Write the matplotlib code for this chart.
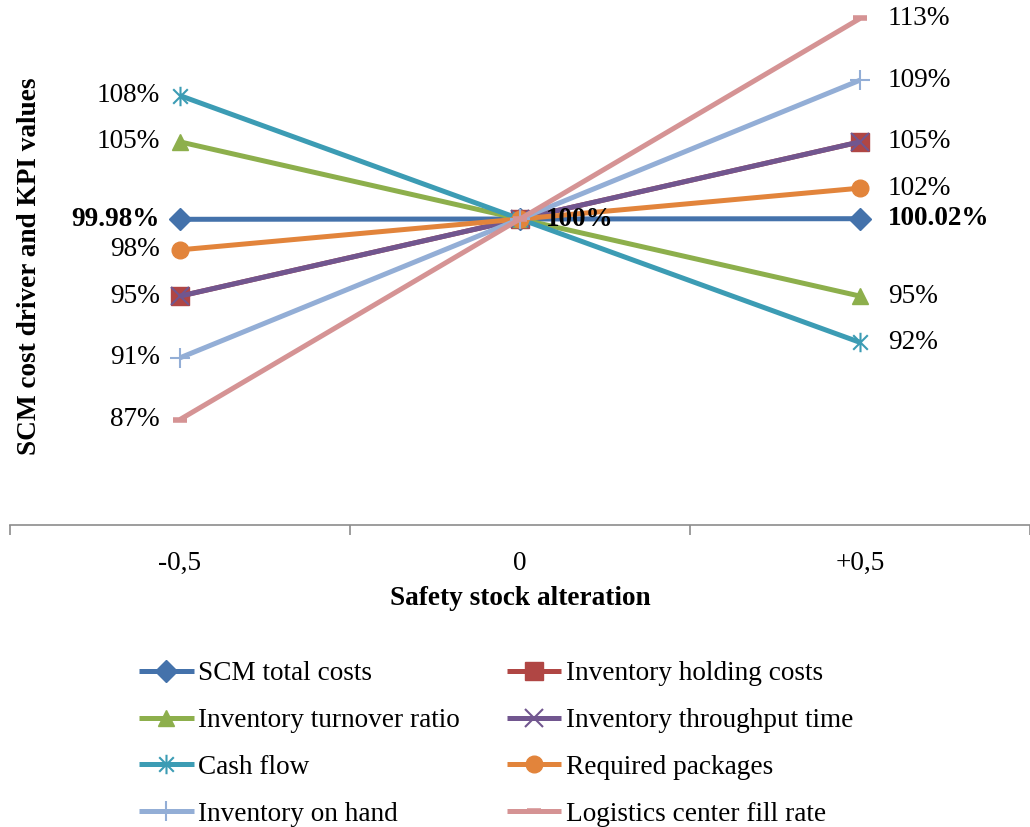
import matplotlib
matplotlib.use("Agg")
import matplotlib.pyplot as plt
from matplotlib.path import Path

# ── Data ──────────────────────────────────────────────────────────────────────
categories = ["-0,5", "0", "+0,5"]
series_names = [
    "SCM total costs",
    "Inventory holding costs",
    "Inventory turnover ratio",
    "Inventory throughput time",
    "Cash flow",
    "Required packages",
    "Inventory on hand",
    "Logistics center fill rate",
]
scm_total_costs = [99.98, 100, 100.02]
holding_costs = [95, 100, 105]
turnover_ratio = [105, 100, 95]
throughput_time = [95, 100, 105]
cash_flow = [108, 100, 92]
required_packages = [98, 100, 102]
inventory_on_hand = [91, 100, 109]
fill_rate = [87, 100, 113]

# labels printed next to the outer points
label_text = [
    ["99.98%", "100.02%"],
    ["95%", "105%"],
    ["105%", "95%"],
    ["95%", "105%"],
    ["108%", "92%"],
    ["98%", "102%"],
    ["91%", "109%"],
    ["87%", "113%"],
]
center_label = "100%"
show_outer = [True, True, True, False, True, True, True, True]

values = [scm_total_costs, holding_costs, turnover_ratio, throughput_time,
          cash_flow, required_packages, inventory_on_hand, fill_rate]

# ── Style ─────────────────────────────────────────────────────────────────────
colors = ["#4472AB", "#B04644", "#8DAF4C", "#71568F",
          "#3C9CB4", "#E2843B", "#93AED6", "#D59394"]

# office-style star: vertical bar plus an x
star = Path([(0, -1), (0, 1), (-0.75, -0.75), (0.75, 0.75),
             (-0.75, 0.75), (0.75, -0.75)],
            [Path.MOVETO, Path.LINETO] * 3)

markers = ["D", "s", "^", "x", star, "o", "+", "_"]
msizes = [11, 13, 12, 13, 14, 12, 14, 10]
mews = [1, 1, 1, 1.5, 1.5, 1, 1.5, 4]

FS = 19.6
plt.rcParams.update({
    "font.family": ["Liberation Serif", "DejaVu Serif"],
    "font.size": FS,
})

fig = plt.figure(figsize=(10.3, 8.27), dpi=100)
ax = fig.add_axes([10 / 1030, 1 - 525 / 827, 1020 / 1030, 521 / 827])

x = list(range(len(categories)))
lines = []
for i, (name, vals) in enumerate(zip(series_names, values)):
    ln, = ax.plot(x, vals, color=colors[i], lw=3.6, marker=markers[i],
                  markersize=msizes[i], markeredgewidth=mews[i],
                  markeredgecolor=colors[i], markerfacecolor=colors[i],
                  label=name, clip_on=False, zorder=3 + i,
                  solid_capstyle="butt")
    lines.append(ln)

# data labels
for i, vals in enumerate(values):
    if not show_outer[i]:
        continue
    weight = "bold" if i == 0 else "normal"
    ax.annotate(label_text[i][0], (x[0], vals[0]), xytext=(-20, 0),
                textcoords="offset pixels", ha="right", va="center",
                fontweight=weight, zorder=20)
    ax.annotate(label_text[i][1], (x[2], vals[2]), xytext=(28, 0),
                textcoords="offset pixels", ha="left", va="center",
                fontweight=weight, zorder=20)
ax.annotate(center_label, (x[1], scm_total_costs[1]), xytext=(26, 0),
            textcoords="offset pixels", ha="left", va="center",
            fontweight="bold", zorder=20)

ax.set_xlim(-0.5, 2.5)
ax.set_ylim(80.16, 113.94)
ax.set_xticks(x)
ax.set_xticklabels(categories)
ax.set_xticks([-0.5, 0.5, 1.5, 2.5], minor=True)
ax.tick_params(axis="x", which="major", length=0, pad=19)
ax.tick_params(axis="x", which="minor", length=7, width=1.2, color="#8C8C8C",
               direction="out")
ax.set_yticks([])
for side in ["left", "right", "top"]:
    ax.spines[side].set_visible(False)
ax.spines["bottom"].set_color("#8C8C8C")
ax.spines["bottom"].set_linewidth(1.2)

ax.set_xlabel("Safety stock alteration", fontweight="bold", labelpad=7)
fig.text(30 / 1030, 1 - 266 / 827, "SCM cost driver and KPI values",
         rotation=90, ha="center", va="center", fontweight="bold")

# legend filled row by row
order = [0, 2, 4, 6, 1, 3, 5, 7]
fig.legend([lines[k] for k in order], [series_names[k] for k in order],
           loc="center", bbox_to_anchor=(496 / 1030, 1 - 744 / 827),
           ncol=2, frameon=False, handlelength=2.0, handletextpad=0.15,
           columnspacing=1.75, labelspacing=0.8, borderpad=0)

fig.savefig("out.png", dpi=100, facecolor="white")
